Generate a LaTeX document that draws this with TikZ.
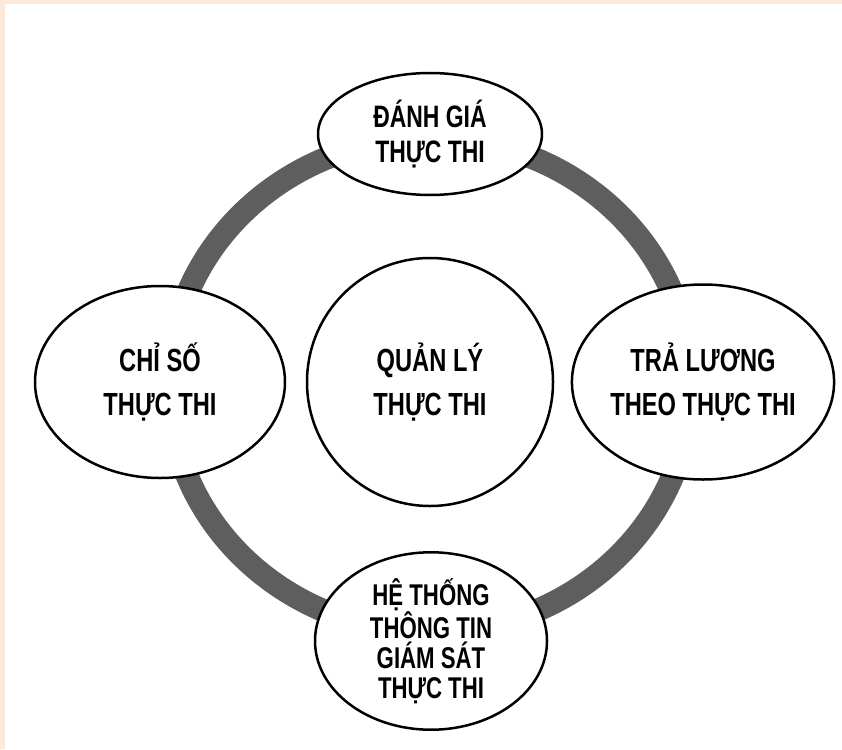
\documentclass[tikz,border=0pt]{standalone}
\usepackage{fontspec}
\setmainfont{Liberation Sans}[FakeStretch=0.74]
\usepackage{tikz}
\usetikzlibrary{shapes.geometric}

\definecolor{peach}{HTML}{FCE9DC}
\definecolor{ringgray}{HTML}{5E5E5E}

\tikzset{
  bubble/.style={ellipse, draw=black, line width=2.5pt, fill=white, inner sep=0pt, align=center},
  ring/.style={draw=ringgray, line width=23pt}
}

\begin{document}
\begin{tikzpicture}[x=1pt, y=-1pt]
            \useasboundingbox (0,0) rectangle (842,749);
            \fill[peach] (0,0) rectangle (842,749);
            \fill[white] (5,4) rectangle (842,749);

            \draw[ring] (430,385) ellipse [x radius=261, y radius=247];

            \node[bubble, minimum width=224pt, minimum height=122pt, font=\bfseries\fontsize{31}{35}\selectfont] (danhgia) at (430,134) {ĐÁNH GIÁ\\THỰC THI};
            \node[bubble, minimum width=250pt, minimum height=192pt, font=\bfseries\fontsize{32}{44}\selectfont] (chiso) at (160,382) {CHỈ SỐ\\THỰC THI};
            \node[bubble, minimum width=246pt, minimum height=248pt, font=\bfseries\fontsize{32}{44}\selectfont] (quanly) at (430,382) {QUẢN LÝ\\THỰC THI};
            \node[bubble, minimum width=243pt, minimum height=195pt, font=\bfseries\fontsize{32}{44}\selectfont] (traluong) at (703,382) {TRẢ LƯƠNG\\THEO THỰC THI};
            \node[bubble, minimum width=232pt, minimum height=162pt, font=\bfseries\fontsize{30}{30}\selectfont] (hethong) at (431,641) {HỆ THỐNG\\THÔNG TIN\\GIÁM SÁT\\THỰC THI};
        \end{tikzpicture}
\end{document}
